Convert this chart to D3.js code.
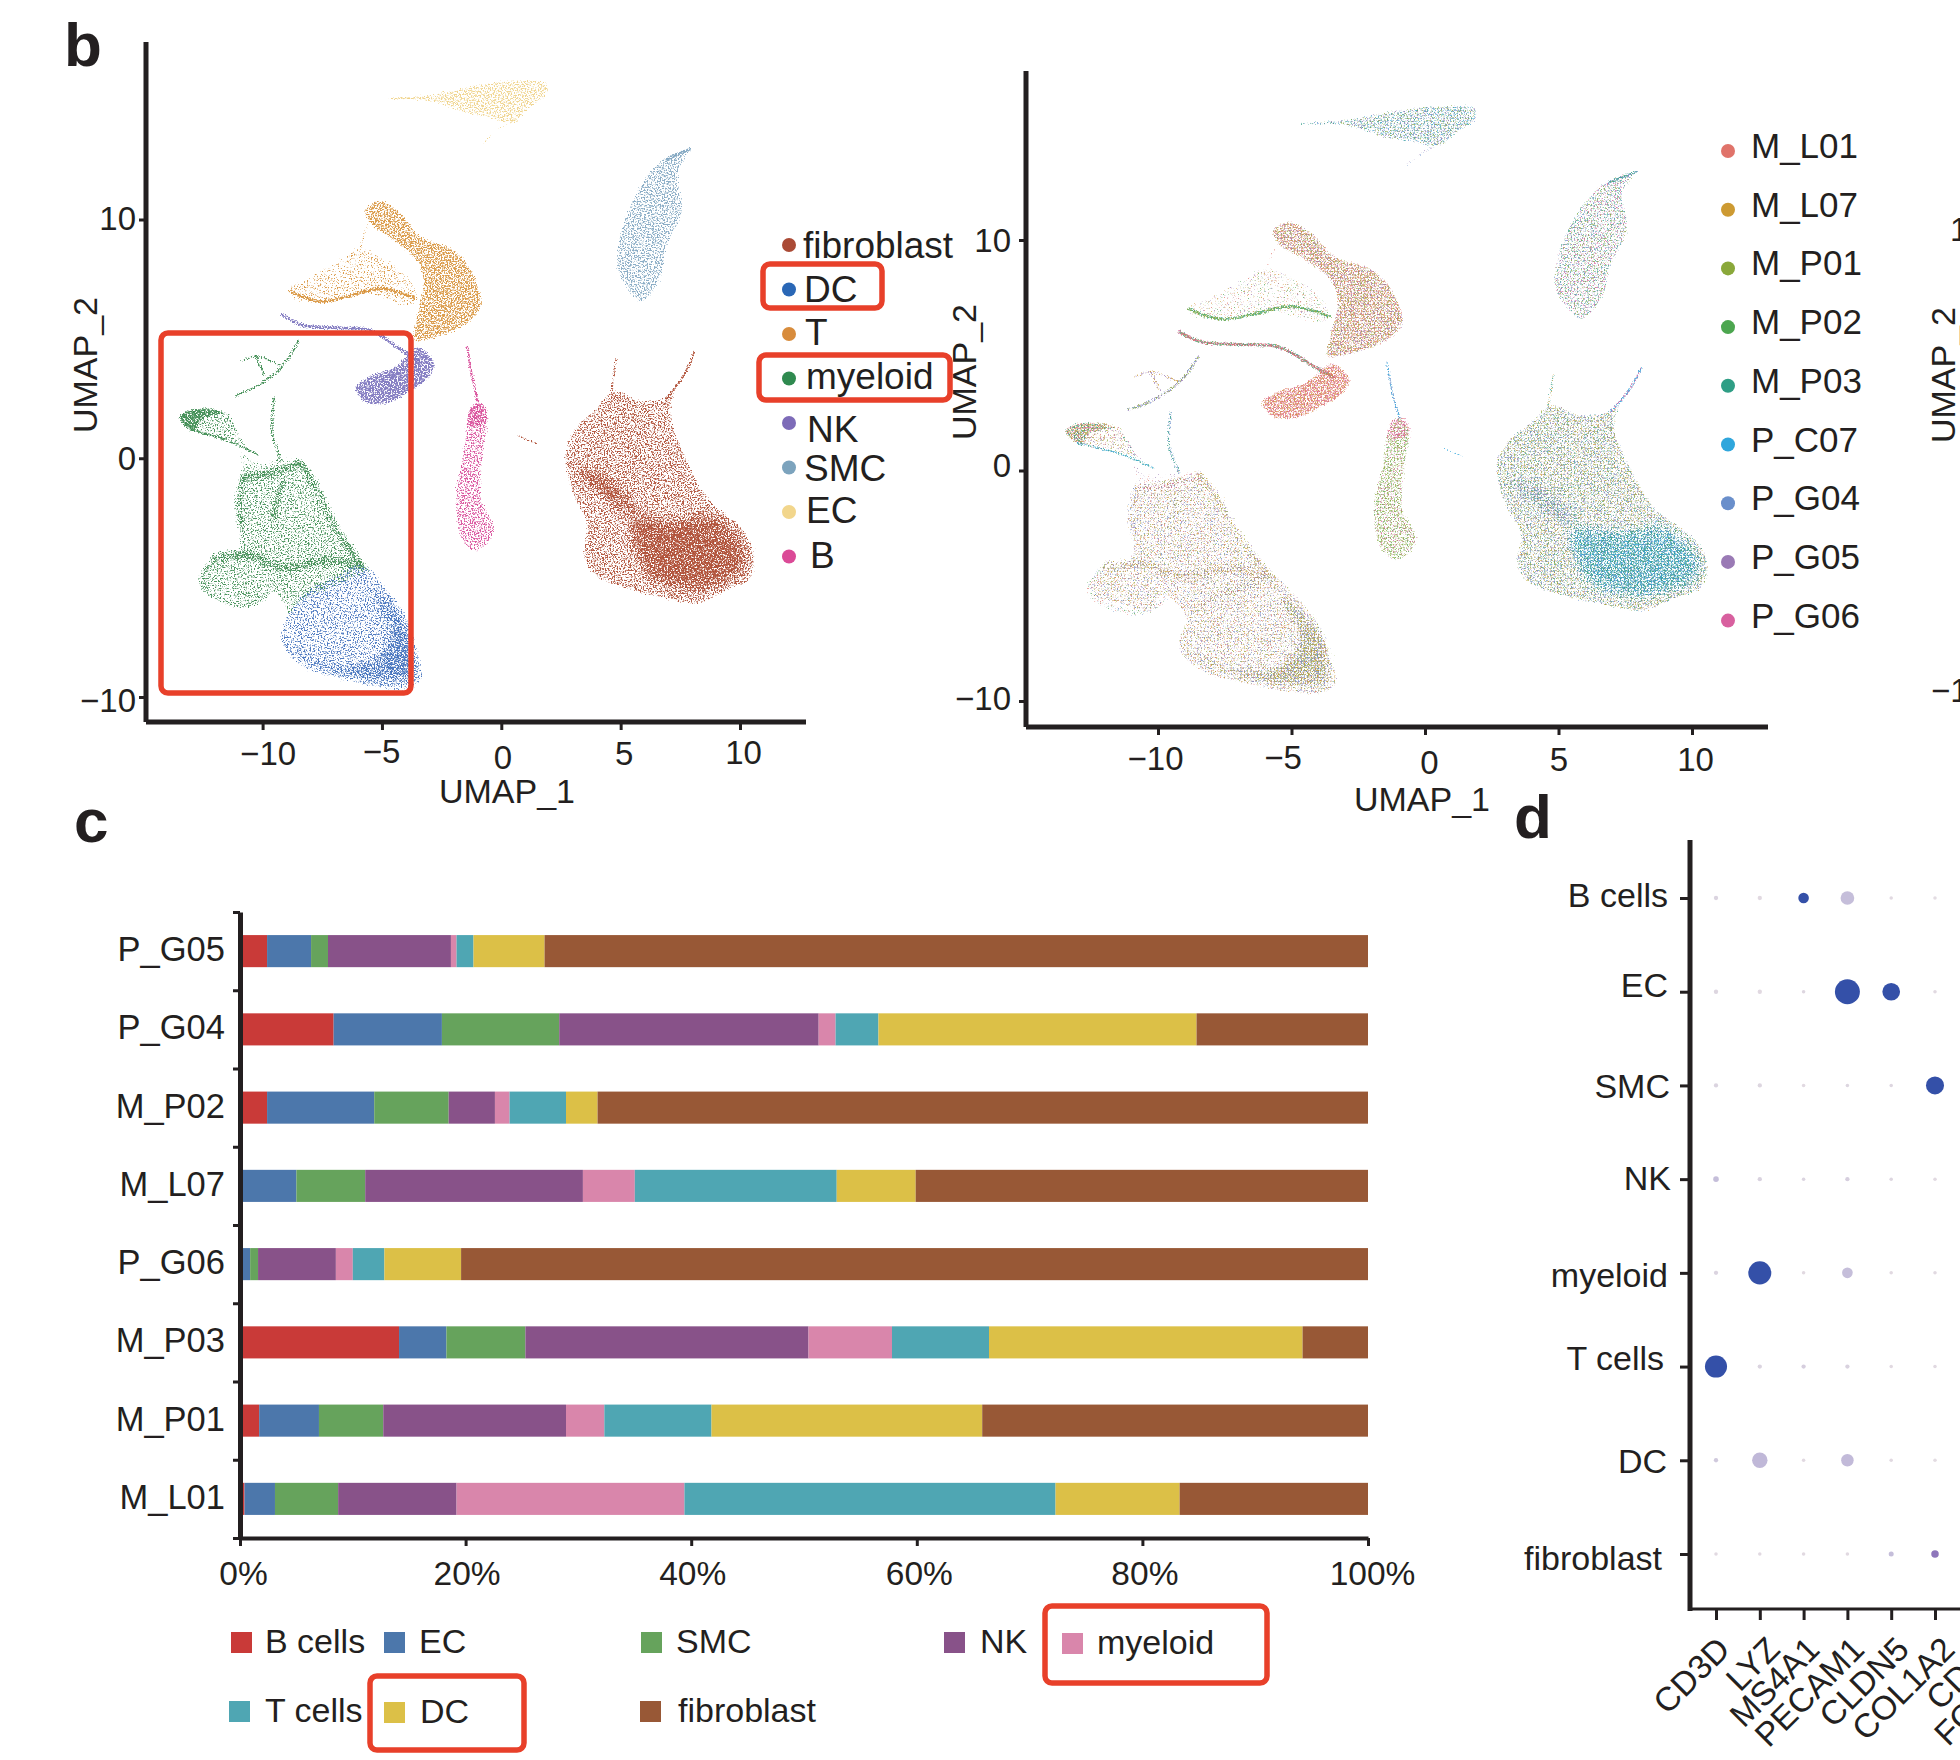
<!DOCTYPE html>
<html><head><meta charset="utf-8">
<script src="https://cdn.jsdelivr.net/npm/d3@7"></script>
<style>
html,body{margin:0;padding:0;background:#fff;overflow:hidden}
svg{display:block}
text{font-family:"Liberation Sans",Arial,sans-serif;fill:#231f20}
</style></head><body>
<script>
// ---------- UMAP cluster shapes, in UMAP units [UMAP_1, UMAP_2] ----------
const ecBody=[[-4.64,15.05],[-2.84,15.3],[-1.15,15.65],[.53,15.86],[1.92,15.75],[1.92,15.2],[1.25,14.66],[.53,14.0],[-.43,14.2],[-1.63,14.44],[-2.84,14.88]];
const ecNose=[[-4.7,15.07],[-3.2,15.08]];
const ecTail=[[.6,14.2],[-.2,13.7],[-.75,13.2]];
const smcBody=[[7.86,12.95],[7.45,11.93],[7.62,10.39],[6.97,8.86],[6.71,7.55],[5.87,6.5],[5.22,7.11],[4.81,7.99],[4.98,9.52],[5.82,11.49],[6.78,12.58]];
const smcTip=[[7.9,12.95],[6.9,12.5]];
const tLobe=[[-5.77,10.39],[-5.12,10.83],[-4.28,10.39],[-3.32,9.3],[-2.12,8.86],[-1.27,7.99],[-.79,6.46],[-1.15,5.8],[-2.36,5.14],[-3.68,4.92],[-3.56,6.02],[-3.32,7.33],[-3.56,8.2],[-4.52,9.08],[-5.48,9.74]];
const tSparse=[[-8.89,7.22],[-8.37,7.44],[-6.92,8.32],[-5.84,8.86],[-3.56,7.22],[-3.68,6.35],[-5.72,6.78],[-7.4,6.46],[-8.85,6.67]];
const tBand=[[-8.85,7.0],[-7.6,6.56],[-6.44,6.78],[-5,7.11],[-3.56,6.67]];
const tLink=[[-5.9,8.8],[-5.6,9.8]];
const nkBlob=[[-6.15,2.95],[-5.48,3.5],[-4.52,3.83],[-3.92,4.38],[-3.44,4.7],[-2.76,3.94],[-3.08,3.28],[-3.92,2.69],[-4.76,2.25],[-5.72,2.3]];
const nkBand=[[-9.2,6.02],[-8.37,5.58],[-6.92,5.47],[-5.48,5.36],[-4.28,4.6],[-3.44,4.05]];
const myeloidLoop=[[-13.53,1.75],[-13.05,2.08],[-11.97,2.08],[-11.37,1.86],[-11,.98],[-10.53,.44],[-11.25,.66],[-12.33,.88],[-13.17,1.2]];
const myeloidCrescent=[[-13.53,1.75],[-13.05,2.08],[-11.97,2.08],[-11.49,1.86],[-11.97,1.75],[-12.57,1.53],[-12.81,1.09],[-13.29,1.31]];
const myeloidLoopLow=[[-13.05,1.2],[-11.25,.66],[-10.17,.11]];
const myeloidLoopRight=[[-11.49,1.86],[-10.77,.55]];
const myeloidBody=[[-10.77,-.66],[-10.17,-.44],[-8.6,-.15],[-8.25,-.15],[-7.76,-1.2],[-7.16,-2.52],[-5.72,-4.7],[-6.92,-5.36],[-8.37,-6.02],[-8.85,-6.67],[-9.2,-6.02],[-9.81,-5.47],[-10.41,-6.13],[-11.25,-5.91],[-12.45,-5.47],[-12.57,-4.92],[-11.97,-4.16],[-11.13,-3.94],[-11,-2.74],[-11,-1.64]];
const myeloidRight=[[-8.49,-.15],[-7.76,-1.2],[-7.16,-2.52],[-5.72,-4.7]];
const myeloidTop=[[-10.77,-.77],[-9.57,-.66],[-8.49,-.2]];
const myeloidLeft=[[-10.77,-.66],[-11,-1.86],[-10.89,-2.74]];
const myeloidInner=[[-9.2,-1],[-9.57,-2.52]];
const myeloidLow=[[-11.97,-4.16],[-10.53,-4.05],[-9.09,-4.6],[-7.4,-4.27],[-5.96,-4.49]];
const myeloidLobe=[[-11.97,-4.16],[-12.57,-5.03],[-12.33,-5.58],[-10.53,-6.13],[-9.69,-5.47]];
const myeloidNet1=[[-8.49,4.92],[-9.2,3.83],[-10.17,3.06],[-11.13,2.63]];
const myeloidNet2=[[-10.29,4.27],[-9.93,3.5]];
const myeloidNet3=[[-9.52,2.52],[-9.57,.98],[-9.2,-.1]];
const myeloidNet4=[[-10.9,4.05],[-10.29,4.27],[-9.2,3.83]];
const myeloidBridge=[[-11,.4],[-10.2,-.1],[-9,.1],[-8.6,-.2],[-9.6,-.7],[-10.8,-.6]];
const dcBody=[[-5.8,-4.4],[-4.76,-5.47],[-3.92,-6.67],[-3.56,-7.99],[-3.27,-9.19],[-3.8,-9.69],[-5,-9.69],[-6.68,-9.3],[-8.37,-8.75],[-9.2,-7.88],[-9.28,-7.33],[-8.9,-6.4],[-8.3,-5.6],[-7,-4.9]];
const dcCrescent=[[-9.28,-7.44],[-8.37,-8.64],[-6.68,-9.26],[-5,-9.56],[-3.51,-9.41],[-3.37,-8.42],[-3.8,-6.89],[-4.76,-5.58],[-5.6,-5.03],[-5.48,-6.02],[-4.88,-7.11],[-5.24,-8.1],[-6.68,-8.47],[-8.13,-7.99],[-8.97,-7.44]];
const bBody=[[-.84,2.3],[-.55,1.64],[-.72,.11],[-.79,-1.64],[-.26,-2.95],[-.67,-3.72],[-1.15,-3.94],[-1.71,-3.39],[-1.88,-2.74],[-1.95,-1.42],[-1.63,.33],[-1.44,1.64],[-1.1,2.3]];
const bStem=[[-1.44,4.7],[-1.2,3.3],[-.95,2.2]];
const bTop=[[-1.3,2.2],[-.7,2.3],[-.55,1.5],[-1.45,1.3]];
const fibroBody=[[2.64,.33],[3.17,1.42],[4.01,2.19],[4.57,2.84],[5.05,2.84],[5.7,2.47],[6.78,2.56],[7.3,2.9],[7.14,1.86],[7.74,.11],[8.7,-1.64],[10.14,-2.95],[10.63,-4.05],[10.38,-5.14],[9.42,-5.58],[8.22,-6.13],[6.78,-5.91],[5.1,-5.47],[3.89,-4.92],[3.41,-4.16],[3.53,-2.74],[2.93,-1.42]];
const fibroCore=[[5.2,-2.2],[7.5,-2.3],[8.8,-2],[10.3,-3.2],[10.6,-4.7],[9.3,-5.6],[7.5,-5.8],[5.8,-5]];
const fibroBand=[[2.75,.1],[4.6,-.55],[6.05,-2.1],[5.6,-2.75],[4.15,-1.9],[2.85,-.55]];
const fibroSpike1=[[4.62,2.8],[4.81,4.16]];
const fibroSpike2=[[6.9,2.5],[7.6,3.4],[8.1,4.45]];
const fibroStreak=[[.65,.98],[1.49,.59]];

// ---------- Legends, ticks and labels ----------
const clusterNames=["fibroblast","DC","T","myeloid","NK","SMC","EC","B"];
const clusterColors=["#ad4a30","#3d6dbb","#d89238","#3a8a4e","#7a72bd","#7fa5c0","#efd184","#d84a98"];
const clusterKeyColors=["#aa4a35","#2a67b6","#d88c3c","#2f8a4f","#7d6bb8","#7ca3bd","#f2d68c","#db4a97"];
const sampleNames=["M_L01","M_L07","M_P01","M_P02","M_P03","P_C07","P_G04","P_G05","P_G06"];
const sampleColors=["#e0736a","#cd9a32","#8aa83a","#4ca64f","#2f9e85","#2fa6dc","#6a8fcb","#9a7ab5","#d8609f"];
const umapTicks=[-10,-5,0,5,10];
const umapYTicks=[-10,0,10];

// ---------- Panel c ----------
const barSamples=["P_G05","P_G04","M_P02","M_L07","P_G06","M_P03","M_P01","M_L01"];
const cellTypes=["B cells","EC","SMC","NK","myeloid","T cells","DC","fibroblast"];
const cellColors=["#c93a38","#4c77ab","#66a35c","#885289","#d986ab","#4fa6b3","#dcc047","#985836"];
const shareP_G05=[2.4,3.9,1.5,10.9,0.5,1.5,6.3,73];
const shareP_G04=[8.3,9.6,10.4,23,1.5,3.8,28.2,15.2];
const shareM_P02=[2.4,9.5,6.6,4.1,1.3,5,2.8,68.3];
const shareM_L07=[0.1,4.9,6.1,19.3,4.6,17.9,7,40.1];
const shareP_G06=[0.1,0.8,0.7,6.9,1.5,2.8,6.8,80.4];
const shareM_P03=[14.1,4.2,7,25.1,7.4,8.6,27.8,5.8];
const shareM_P01=[1.7,5.3,5.7,16.2,3.4,9.5,24,34.2];
const shareM_L01=[0.4,2.7,5.6,10.5,20.2,32.9,11,16.7];
const percentTicks=[0,20,40,60,80,100];

// ---------- Panel d ----------
const dotCells=["B cells","EC","SMC","NK","myeloid","T cells","DC","fibroblast"];
const dotGenes=["CD3D","LYZ","MS4A1","PECAM1","CLDN5","COL1A2","CD68","FCGR3A"];
const pctBcells=[3,3,18,30,2,2];
const pctEC=[3,3,2,100,50,2];
const pctSMC=[3,3,2,2,2,52];
const pctNK=[5,3,2,3,2,2];
const pctMyeloid=[3,85,2,18,2,2];
const pctTcells=[78,3,3,3,2,2];
const pctDC=[3,38,2,25,2,2];
const pctFibroblast=[2,2,2,2,4,9];
const exprBcells=[.1,.05,1,.3,.05,.03];
const exprEC=[.08,.05,.08,1,1,.05];
const exprSMC=[.1,.08,.05,.08,.08,1];
const exprNK=[.3,.12,.1,.15,.08,.05];
const exprMyeloid=[.1,1,.05,.3,.05,.05];
const exprTcells=[1,.1,.15,.12,.05,.05];
const exprDC=[.2,.35,.05,.33,.05,.03];
const exprFibroblast=[.05,.05,.05,.05,.3,.6];

// ---------- Layout (pixels, styles) ----------
const W=1960,H=1760,INK="#231f20",RED="#e8402a",FONT_LABEL=33;
const svg=d3.select("body").append("svg").attr("width",W).attr("height",H).attr("viewBox",`0 0 ${W} ${H}`);
svg.append("rect").attr("width",W).attr("height",H).attr("fill","#fff");
const defs=svg.append("defs");

// Grain filter: blurs the outline, adds noise and thresholds, so grain thins out towards an edge like a point cloud.
const grainFilters=new Set();
function grain(D,sigma,seed){
  const id=`gr-${Math.round(D*100)}-${Math.round(sigma*10)}-${seed}`;
  if(grainFilters.has(id)) return `url(#${id})`;
  grainFilters.add(id);
  const f=defs.append("filter").attr("id",id).attr("filterUnits","userSpaceOnUse")
    .attr("x",0).attr("y",0).attr("width",W).attr("height",H).attr("color-interpolation-filters","sRGB");
  f.append("feGaussianBlur").attr("in","SourceGraphic").attr("stdDeviation",sigma).attr("result","soft");
  f.append("feColorMatrix").attr("in","soft").attr("type","matrix").attr("values","1 0 0 0 0 0 1 0 0 0 0 0 1 0 0 0 0 0 60 0").attr("result","flat");
  f.append("feTurbulence").attr("type","fractalNoise").attr("baseFrequency",.7).attr("numOctaves",2).attr("seed",seed*7).attr("result","n");
  f.append("feColorMatrix").attr("in","n").attr("type","matrix").attr("values","0 0 0 0 0 0 0 0 0 0 0 0 0 0 0 1 0 0 0 0").attr("result","na");
  f.append("feComposite").attr("in","soft").attr("in2","na").attr("operator","arithmetic").attr("k1",0).attr("k2",D).attr("k3",1).attr("k4",-1).attr("result","sum");
  f.append("feColorMatrix").attr("in","sum").attr("type","matrix").attr("values","0 0 0 0 0 0 0 0 0 0 0 0 0 0 0 0 0 0 7 0").attr("result","mask");
  f.append("feComposite").attr("in","flat").attr("in2","mask").attr("operator","in").attr("result","g");
  f.append("feGaussianBlur").attr("in","g").attr("stdDeviation",.4);
  return `url(#${id})`;
}
// density name -> [grain level in panel 1, grain level per sample in panel 2, edge softness]
const densities={
  fine:[.44,.33,2], sparse:[.48,.37,1.6], mid:[.52,.40,1.6], dense:[.57,.43,1.6],
  solid:[.64,.47,1.6], core:[.62,.45,9], dccore:[.58,.44,7], thin:[.68,.56,.9], thinSparse:[.58,.50,.9], strand:[.55,.41,2.5]
};

// shape, closed?, cluster, density, strand width, samples mixing in that part of panel 2
const umapLayers=[
 [ecBody,1,"EC","mid",0,["P_G04","P_C07","M_P03","P_G05","M_P01"]],
 [ecNose,0,"EC","thin",3,["P_G04","M_P03"]],
 [ecTail,0,"EC","thinSparse",3,["P_G04","P_G05"]],
 [smcBody,1,"SMC","mid",0,["M_P03","P_G04","M_P01","P_G06"]],
 [smcTip,0,"SMC","thin",5,["P_G04","M_P03"]],
 [tSparse,1,"T","fine",0,["M_P02","M_L07","P_G05","M_L01"]],
 [tBand,0,"T","thin",5,["M_P02","M_P03","M_P01"]],
 [tLink,0,"T","thinSparse",3,["M_L01"]],
 [tLobe,1,"T","dense",0,["M_L01","M_L07","M_L01","M_P01","P_G05"]],
 [nkBand,0,"NK","thin",5,["M_P03","M_P02","P_G06","M_L01"]],
 [nkBlob,1,"NK","solid",0,["M_L01","P_G06","M_L07","M_L01"]],
 [bStem,0,"B","thin",4,["P_G04","P_C07"]],
 [bBody,1,"B","mid",0,["M_P01","M_P01","M_P02","M_P01","P_G06"]],
 [bTop,1,"B","dense",0,["P_G06","M_L01","P_G06"]],
 [myeloidNet1,0,"myeloid","thinSparse",5,["P_G04","P_G05","M_P01"]],
 [myeloidNet2,0,"myeloid","thinSparse",5,["P_G05","M_L07"]],
 [myeloidNet3,0,"myeloid","thinSparse",5,["P_G04","M_P03"]],
 [myeloidNet4,0,"myeloid","thinSparse",4,["M_L07","P_G05"]],
 [myeloidLoop,1,"myeloid","sparse",0,["M_L01","M_P01","M_L07","P_G05"]],
 [myeloidCrescent,1,"myeloid","solid",0,["M_P01","P_G06","M_L07","M_P03"]],
 [myeloidLoopLow,0,"myeloid","thin",4,["M_P03","P_C07"]],
 [myeloidLoopRight,0,"myeloid","thinSparse",3,["P_G06","M_P03"]],
 [myeloidBridge,1,"myeloid","fine",0,["M_L01","P_G05"]],
 [myeloidBody,1,"myeloid","sparse",0,["M_P01","M_L07","P_G05","M_L01","P_G04"]],
 [myeloidRight,0,"myeloid","strand",12,["M_P01","M_L07","P_G05"]],
 [myeloidTop,0,"myeloid","strand",12,["P_G05","M_L07","P_G06"]],
 [myeloidLeft,0,"myeloid","strand",12,["P_G05","P_G04","M_L07"]],
 [myeloidInner,0,"myeloid","strand",10,["P_G05","M_P01"]],
 [myeloidLow,0,"myeloid","strand",14,["M_P01","M_L07","P_G05"]],
 [myeloidLobe,0,"myeloid","strand",9,["M_P02","P_G04","M_L01"]],
 [dcBody,1,"DC","sparse",0,["M_P01","M_L07","P_G05","M_L01","P_G04"]],
 [dcCrescent,1,"DC","dccore",0,["M_P01","P_G05","M_P01","P_G04","M_L07"]],
 [fibroBody,1,"fibroblast","mid",0,["M_P03","M_L07","P_G05","P_G04","M_P01"]],
 [fibroBand,1,"fibroblast","core",0,["P_G04","M_P03","P_G05"]],
 [fibroCore,1,"fibroblast","core",0,["P_C07","M_P03","P_G04","M_P03","P_C07"]],
 [fibroSpike1,0,"fibroblast","thinSparse",4,["M_P03","M_L07"]],
 [fibroSpike2,0,"fibroblast","thin",4,["P_G04","P_G06","P_C07"]],
 [fibroStreak,0,"fibroblast","thin",3,["P_C07"]]
];

function drawUmapCloud(g,x,y,mode){
  const line=d3.line().x(d=>x(d[0])).y(d=>y(d[1]));
  umapLayers.forEach(([shape,closed,cluster,density,width,mix],li)=>{
    const gen=line.curve(closed?d3.curveCatmullRomClosed.alpha(.5):d3.curveCatmullRom.alpha(.5));
    const [d1,d2,sig]=densities[density];
    const painters=mode==="cluster"
      ? [[clusterColors[clusterNames.indexOf(cluster)],d1,1+li%9,.9]]
      : mix.map((s,i)=>[sampleColors[sampleNames.indexOf(s)],d2,1+(li+i*2)%9,.72]);
    painters.forEach(([col,den,seed,op])=>{
      g.append("path").attr("d",gen(shape))
        .attr("fill",closed?col:"none").attr("stroke",closed?"none":col)
        .attr("stroke-width",width).attr("stroke-linecap","round")
        .attr("opacity",op)
        .attr("filter",grain(den,sig,seed));
    });
  });
}
function styleAxis(g,w){
  g.selectAll(".domain").attr("stroke",INK).attr("stroke-width",w);
  g.selectAll(".tick line").attr("stroke",INK).attr("stroke-width",3);
  g.selectAll("text").attr("fill",INK).attr("font-family",'"Liberation Sans",Arial,sans-serif');
}
const minusFmt=d=>String(d).replace("-","\u2212");

function umapAxes(cfg){
  const x=d3.scaleLinear().domain([-10,10]).range(cfg.xr);
  const y=d3.scaleLinear().domain([-10,10]).range(cfg.yr);
  const g=svg.append("g");
  drawUmapCloud(g.append("g"),x,y,cfg.mode);
  const ax=g.append("g").attr("transform",`translate(0,${cfg.bottom})`)
    .call(d3.axisBottom(x).tickValues(umapTicks).tickSize(8).tickSizeOuter(0).tickFormat(minusFmt));
  ax.select(".domain").attr("d",`M${cfg.left},0H${cfg.right}`);
  ax.selectAll("text").attr("font-size",FONT_LABEL).attr("dy",0).attr("dominant-baseline","central")
    .attr("x",(d,i)=>cfg.xNudge[i]).attr("y",(d,i)=>cfg.xLabelY[i]-cfg.bottom);
  styleAxis(ax,5);
  const ay=g.append("g").attr("transform",`translate(${cfg.left},0)`)
    .call(d3.axisLeft(y).tickValues(umapYTicks).tickSize(7).tickSizeOuter(0).tickFormat(minusFmt));
  ay.select(".domain").attr("d",`M0,${cfg.top}V${cfg.bottom}`);
  ay.selectAll("text").attr("font-size",FONT_LABEL).attr("dy",0).attr("dominant-baseline","central")
    .attr("x",-cfg.yGap).attr("y",(d,i)=>cfg.yNudge[i]);
  styleAxis(ay,5);
  g.append("text").text("UMAP_1").attr("x",cfg.xt[0]).attr("y",cfg.xt[1]).attr("text-anchor","middle").attr("dominant-baseline","central").attr("font-size",FONT_LABEL+1);
  g.append("text").text("UMAP_2").attr("transform",`translate(${cfg.yt[0]},${cfg.yt[1]}) rotate(-90)`).attr("text-anchor","middle").attr("dominant-baseline","central").attr("font-size",FONT_LABEL+1);
}
umapAxes({mode:"cluster",xr:[262.6,740],yr:[697,219.5],left:146,right:806,top:42,bottom:722,
  xNudge:[5,-1,1,3,3],xLabelY:[753,751,757,753,752],yGap:10,yNudge:[3,0,-2],xt:[507,791],yt:[85,365]});
umapAxes({mode:"sample",xr:[1158,1692],yr:[701,240],left:1026,right:1768,top:71,bottom:727,
  xNudge:[-3,-9,4,0,3],xLabelY:[758,757,762,759,759],yGap:15,yNudge:[-3,-6,0],xt:[1422,799],yt:[964,372]});

// cut-off third panel at the right edge
svg.append("text").text("UMAP_2").attr("transform","translate(1943,375) rotate(-90)").attr("text-anchor","middle").attr("dominant-baseline","central").attr("font-size",34);
svg.append("text").text("10").attr("x",1950).attr("y",229).attr("dominant-baseline","central").attr("font-size",33);
svg.append("text").text("\u221210").attr("x",1931).attr("y",690).attr("dominant-baseline","central").attr("font-size",33);

// legends of panel b
const key1TextPos=[[14,245],[15,289],[16,332],[17,376],[18,429],[15,468],[17,510],[21,555]];
clusterNames.forEach((n,i)=>{
  const cy=245+44.5*i;
  svg.append("circle").attr("cx",789).attr("cy",cy).attr("r",7).attr("fill",clusterKeyColors[i]);
  svg.append("text").text(n).attr("x",789+key1TextPos[i][0]).attr("y",key1TextPos[i][1]).attr("dominant-baseline","central").attr("font-size",37);
});
sampleNames.forEach((n,i)=>{
  svg.append("circle").attr("cx",1728).attr("cy",151+58.7*i).attr("r",7).attr("fill",sampleColors[i]);
  svg.append("text").text(n).attr("x",1751).attr("y",145.5+58.7*i).attr("dominant-baseline","central").attr("font-size",35);
});

// ---------- Panel c ----------
const shareTable=[shareP_G05,shareP_G04,shareM_P02,shareM_L07,shareP_G06,shareM_P03,shareM_P01,shareM_L01]
  .map((v,i)=>Object.assign({sample:barSamples[i]},Object.fromEntries(cellTypes.map((c,j)=>[c,v[j]]))));
const cx=d3.scaleLinear().domain([0,100]).range([240,1368]);
const cy=d3.scaleBand().domain(barSamples).range([912,1538]).paddingInner(.59).paddingOuter(.295);
const stack=d3.stack().keys(cellTypes).offset(d3.stackOffsetExpand)(shareTable);
const cg=svg.append("g");
cg.selectAll("g.s").data(stack).join("g").attr("fill",(d,i)=>cellColors[i])
  .selectAll("rect").data(d=>d).join("rect")
  .attr("x",d=>cx(d[0]*100)).attr("width",d=>cx(d[1]*100)-cx(d[0]*100))
  .attr("y",d=>cy(d.data.sample)).attr("height",cy.bandwidth());
const cxAxis=cg.append("g").attr("transform","translate(0,1538)")
  .call(d3.axisBottom(cx).tickValues(percentTicks).tickSize(8).tickSizeOuter(0).tickFormat(d=>d+"%"));
cxAxis.selectAll("text").attr("font-size",33.5).attr("dy",0).attr("dominant-baseline","central").attr("y",35).attr("x",(d,i)=>[3,1,1,2,2,4][i]);
styleAxis(cxAxis,4);
const cyEdges=d3.scaleLinear().domain([0,8]).range([912,1538]);
const cyAxis=cg.append("g").attr("transform","translate(240,0)")
  .call(d3.axisLeft(cyEdges).tickValues(d3.range(9)).tickSize(7).tickSizeOuter(0).tickFormat(""));
styleAxis(cyAxis,5);
barSamples.forEach(s=>{
  cg.append("text").text(s).attr("x",225).attr("y",cy(s)+cy.bandwidth()/2-2).attr("text-anchor","end").attr("dominant-baseline","central").attr("font-size",34.5);
});
// legend of panel c
const keyC=[[231,1641,265],[384,1641,419],[641,1641,676],[944,1641,980],[1062,1642,1097],[229,1710,265],[384,1711,420],[640,1710,678]];
cellTypes.forEach((c,i)=>{
  const [sx,sy,tx]=keyC[i];
  cg.append("rect").attr("x",sx).attr("y",sy-9).attr("width",21).attr("height",21).attr("fill",cellColors[i]);
  cg.append("text").text(c).attr("x",tx).attr("y",sy).attr("dominant-baseline","central").attr("font-size",34);
});

// ---------- Panel d ----------
const pctRows=[pctBcells,pctEC,pctSMC,pctNK,pctMyeloid,pctTcells,pctDC,pctFibroblast];
const exprRows=[exprBcells,exprEC,exprSMC,exprNK,exprMyeloid,exprTcells,exprDC,exprFibroblast];
const dx=d3.scalePoint().domain(dotGenes).range([1716,1716+43.8*7]);
const dy=d3.scalePoint().domain(dotCells).range([898,1554]);
const dr=d3.scaleSqrt().domain([0,100]).range([0,12.5]);
const dc=d3.scaleLinear().domain([0,.35,.6,1]).range(["#e6dfe3","#c0b8d8","#8e76bb","#3450a8"]);
const dg=svg.append("g");
dotCells.forEach((c,i)=>pctRows[i].forEach((p,j)=>{
  dg.append("circle").attr("cx",dx(dotGenes[j])).attr("cy",dy(c)).attr("r",dr(p)).attr("fill",dc(exprRows[i][j]));
}));
const geneEndNudge=[12,18,14,15,16,18,18,18];
const dxAxis=dg.append("g").attr("transform","translate(0,1609)")
  .call(d3.axisBottom(dx).tickSize(11).tickSizeOuter(0));
dxAxis.select(".domain").attr("d","M1690,0H1960");
styleAxis(dxAxis,3);
dxAxis.selectAll("text").attr("font-size",33.5).attr("text-anchor","end").attr("dy",".35em")
  .attr("transform",(d,i)=>`translate(${geneEndNudge[i]-5},34) rotate(-45)`).attr("y",0).attr("x",0);
const dyAxis=dg.append("g").attr("transform","translate(1690,0)")
  .call(d3.axisLeft(dy).tickSize(10).tickSizeOuter(0).tickFormat(""));
dyAxis.select(".domain").attr("d","M0,840V1611");
styleAxis(dyAxis,5);
const dLabelPos=[[1668,895],[1668,985],[1670,1086],[1671,1178],[1668,1275],[1664,1358],[1667,1461],[1662,1558]];
dotCells.forEach((c,i)=>{
  dg.append("text").text(c).attr("x",dLabelPos[i][0]).attr("y",dLabelPos[i][1]).attr("text-anchor","end").attr("dominant-baseline","central").attr("font-size",34);
});

// ---------- Panel letters and red highlight boxes ----------
[["b",64,66],["c",74,842],["d",1514,838]].forEach(([t,x,y])=>{
  svg.append("text").text(t).attr("x",x).attr("y",y).attr("font-size",62).attr("font-weight",700);
});
const redBoxes=[[161,333,250,360],[763,264,119,44],[759,355,191,45],[1045,1606,222,77],[370,1676,154,74]];
redBoxes.forEach(([x,y,w,h])=>{
  svg.append("rect").attr("x",x).attr("y",y).attr("width",w).attr("height",h).attr("rx",7)
    .attr("fill","none").attr("stroke",RED).attr("stroke-width",5.5);
});
</script>
</body></html>
